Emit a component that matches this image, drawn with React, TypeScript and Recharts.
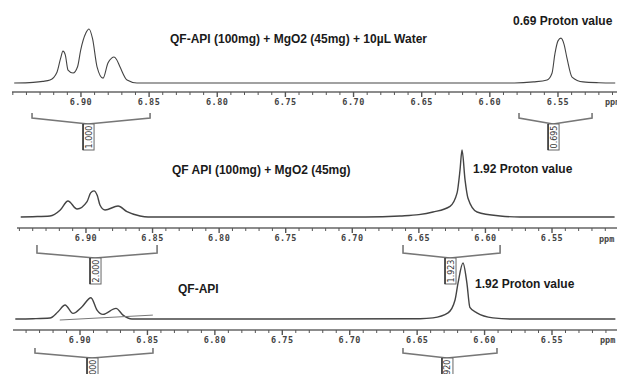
import React from 'react'
import { LineChart, Line, XAxis, YAxis, ReferenceDot } from 'recharts'

// chemical shift ticks (ppm)
const MAJOR_TICKS = [6.9, 6.85, 6.8, 6.75, 6.7, 6.65, 6.6, 6.55]
const ALL_TICKS = [
  6.95, 6.94, 6.93, 6.92, 6.91, 6.9, 6.89, 6.88, 6.87, 6.86, 6.85, 6.84, 6.83, 6.82, 6.81,
  6.8, 6.79, 6.78, 6.77, 6.76, 6.75, 6.74, 6.73, 6.72, 6.71, 6.7, 6.69, 6.68, 6.67, 6.66,
  6.65, 6.64, 6.63, 6.62, 6.61, 6.6, 6.59, 6.58, 6.57, 6.56, 6.55, 6.54, 6.53, 6.52, 6.51,
]

// QF-API + MgO2 + 10uL water
const topPpm = [
  6.949, 6.935, 6.928, 6.9227, 6.9176, 6.915, 6.9132, 6.9115, 6.9095, 6.9058, 6.9025, 6.9002,
  6.8965, 6.8941, 6.8915, 6.8882, 6.8838, 6.8802, 6.8775, 6.8758, 6.874, 6.8714, 6.8662, 6.8589,
  6.8, 6.65, 6.582, 6.568, 6.558, 6.5544, 6.5522, 6.55, 6.5478, 6.5456, 6.5434, 6.5397, 6.5316,
  6.52, 6.508,
]
const topInt = [
  0, 1.2, 3, 5.5, 20, 45, 59, 52, 24, 18.5, 30, 61, 92, 100, 82, 30, 9, 37, 46, 48, 44, 30, 5.5, 0,
  0, 0, 0, 2, 5.5, 18, 55, 78, 83, 72, 46, 11, 2, 0.5, 0,
]

// QF-API + MgO2
const midPpm = [
  6.949, 6.94, 6.927, 6.9195, 6.9135, 6.9067, 6.8992, 6.8965, 6.894, 6.8915, 6.8895, 6.8857,
  6.8759, 6.8692, 6.8594, 6.8534, 6.75, 6.69, 6.6641, 6.65, 6.6394, 6.6266, 6.6213, 6.6191,
  6.6176, 6.6153, 6.6131, 6.6063, 6.589, 6.574, 6.503,
]
const midInt = [
  0, 0.5, 1.5, 10, 24, 12, 23, 36, 39, 32, 18, 10.5, 16.4, 8, 1.5, 0, 0, 0, 1.5, 3.5, 7.5, 16, 36,
  70, 100, 55, 28, 7.5, 1.5, 0, 0,
]

// QF-API
const botPpm = [
  6.948, 6.935, 6.9223, 6.9163, 6.9111, 6.9052, 6.8985, 6.8919, 6.8874, 6.883, 6.8733, 6.8681,
  6.8615, 6.75, 6.6479, 6.6383, 6.6271, 6.6219, 6.6197, 6.616, 6.6131, 6.6109, 6.6057, 6.5938,
  6.58, 6.503,
]
const botInt = [
  0, 0.5, 1.8, 13, 25, 10, 22, 38, 16, 8.3, 19, 7, 0, 0, 0.5, 2, 11, 34, 64, 100, 64, 21, 11, 2, 0,
  0,
]
const botIntegralPpm = [6.915, 6.846]
const botIntegralInt = [-1.8, 7]

// integration ranges: start, end, label position, value
const topRangeStart = [6.9359, 6.5786]
const topRangeEnd = [6.8493, 6.525]
const topRangeMid = [6.8948, 6.5536]
const topRangeVal = ['1.000', '0.695']

const midRangeStart = [6.9368, 6.6619]
const midRangeEnd = [6.8466, 6.589]
const midRangeMid = [6.8932, 6.6266]
const midRangeVal = ['2.000', '1.923']

const botRangeStart = [6.9334, 6.6605]
const botRangeEnd = [6.8459, 6.5908]
const botRangeMid = [6.8911, 6.6279]
const botRangeVal = ['2.000', '1.920']

const W = 617
const zip = (xs: number[], ys: number[]) => xs.map((p, i) => ({ ppm: p, v: ys[i] }))

const AxisTick = (props: any) => {
  const { x, y, payload } = props
  const val = payload.value
  const major = MAJOR_TICKS.some((m) => Math.abs(m - val) < 1e-6)
  return (
    <g>
      <line x1={x} x2={x} y1={y} y2={y + (major ? 5 : 3)} stroke="#555" strokeWidth={major ? 1.4 : 1} />
      {major && (
        <text
          x={x}
          y={y + 13}
          textAnchor="middle"
          fontSize={8.5}
          fontWeight={700}
          fill="#444"
          fontFamily="DejaVu Sans Mono"
          letterSpacing={0.5}
        >
          {val.toFixed(2)}
        </text>
      )}
    </g>
  )
}

const IntegralTag = ({ cx, cy, text }: any) => (
  <g>
    <rect x={cx - 5} y={cy} width={11} height={26} fill="#fff" stroke="#666" strokeWidth={1} />
    <line x1={cx - 5} x2={cx - 5} y1={cy} y2={cy + 26} stroke="#333" strokeWidth={1.5} />
    <text
      transform={`translate(${cx + 3.5},${cy + 13}) rotate(-90)`}
      textAnchor="middle"
      fontSize={8}
      fontFamily="DejaVu Sans"
      fill="#333"
    >
      {text}
    </text>
  </g>
)

function Spectrum({ top, height, left, xDomain, yDomain, data, width, extra }: any) {
  const ticks = ALL_TICKS.filter((t) => t >= xDomain[0] && t <= xDomain[1])
  return (
    <div style={{ position: 'absolute', left: 0, top }}>
      <LineChart width={W} height={height} margin={{ top: 0, right: 0, bottom: 0, left }}>
        <XAxis
          type="number"
          dataKey="ppm"
          domain={xDomain}
          allowDataOverflow
          reversed
          ticks={ticks}
          interval={0}
          height={18}
          tickSize={0}
          tickMargin={0}
          tickLine={false}
          tick={<AxisTick />}
          axisLine={{ stroke: '#666', strokeWidth: 1.6 }}
        />
        <YAxis hide type="number" domain={yDomain} allowDataOverflow />
        <Line
          data={data}
          dataKey="v"
          type="monotone"
          stroke="#444"
          strokeWidth={width}
          dot={false}
          isAnimationActive={false}
        />
        {extra && (
          <Line
            data={extra}
            dataKey="v"
            type="linear"
            stroke="#777"
            strokeWidth={1}
            dot={false}
            isAnimationActive={false}
          />
        )}
      </LineChart>
    </div>
  )
}

function Brackets({ top, height, left, xDomain, starts, ends, mids, vals, lo, hi, apex }: any) {
  return (
    <div style={{ position: 'absolute', left: 0, top }}>
      <LineChart width={W} height={height} margin={{ top: 0, right: 0, bottom: 0, left }}>
        <XAxis hide type="number" dataKey="ppm" domain={xDomain} allowDataOverflow reversed />
        <YAxis hide type="number" domain={[0, height]} reversed allowDataOverflow />
        {starts.map((s: number, i: number) => (
          <Line
            key={i}
            data={[
              { ppm: s, v: lo },
              { ppm: s, v: hi },
              { ppm: mids[i], v: apex },
              { ppm: ends[i], v: hi },
              { ppm: ends[i], v: lo },
            ]}
            dataKey="v"
            type="linear"
            stroke="#777"
            strokeWidth={1.6}
            dot={false}
            isAnimationActive={false}
          />
        ))}
        {mids.map((m: number, i: number) => (
          <ReferenceDot
            key={'t' + i}
            x={m}
            y={apex}
            r={0}
            ifOverflow="visible"
            shape={(p: any) => <IntegralTag cx={p.cx} cy={p.cy} text={vals[i]} />}
          />
        ))}
      </LineChart>
    </div>
  )
}

const Title = ({ x, cy, children }: any) => (
  <div
    style={{
      position: 'absolute',
      left: x,
      top: cy - 7,
      lineHeight: '14px',
      fontSize: 12,
      fontWeight: 700,
      color: '#1a1a1a',
      whiteSpace: 'nowrap',
      fontFamily: '"Liberation Sans", Arial, sans-serif',
    }}
  >
    {children}
  </div>
)

const PpmLabel = ({ x, cy }: any) => (
  <div
    style={{
      position: 'absolute',
      left: x,
      top: cy - 6,
      lineHeight: '12px',
      fontSize: 8.5,
      fontWeight: 700,
      color: '#444',
      fontFamily: '"DejaVu Sans Mono", monospace',
    }}
  >
    ppm
  </div>
)

export default function App() {
  const topDomain = [6.5067, 6.9506]
  const midDomain = [6.5012, 6.9518]
  const botDomain = [6.5018, 6.9497]
  return (
    <div
      style={{
        position: 'absolute',
        left: 0,
        top: 0,
        width: W,
        height: 374,
        overflow: 'hidden',
        background: '#fff',
      }}
    >
      <Spectrum top={0} height={110} left={12} xDomain={topDomain} yDomain={[-16.7, 153.7]} data={zip(topPpm, topInt)} width={1.1} />
      <Brackets
        top={108}
        height={46}
        left={12}
        xDomain={topDomain}
        starts={topRangeStart}
        ends={topRangeEnd}
        mids={topRangeMid}
        vals={topRangeVal}
        lo={5}
        hi={10}
        apex={16}
      />
      <Spectrum top={130} height={116} left={17} xDomain={midDomain} yDomain={[-16.4, 129.9]} data={zip(midPpm, midInt)} width={1.4} />
      <Brackets
        top={240}
        height={46}
        left={17}
        xDomain={midDomain}
        starts={midRangeStart}
        ends={midRangeEnd}
        mids={midRangeMid}
        vals={midRangeVal}
        lo={5}
        hi={13}
        apex={18}
      />
      <Spectrum
        top={250}
        height={98}
        left={13}
        xDomain={botDomain}
        yDomain={[-19.6, 123.2]}
        data={zip(botPpm, botInt)}
        width={1.4}
        extra={zip(botIntegralPpm, botIntegralInt)}
      />
      <Brackets
        top={343}
        height={46}
        left={13}
        xDomain={botDomain}
        starts={botRangeStart}
        ends={botRangeEnd}
        mids={botRangeMid}
        vals={botRangeVal}
        lo={5}
        hi={10}
        apex={15}
      />

      <Title x={170} cy={39}>QF-API (100mg) + MgO2 (45mg) + 10µL Water</Title>
      <Title x={513} cy={21}>0.69 Proton value</Title>
      <Title x={172} cy={170}>QF API (100mg) + MgO2 (45mg)</Title>
      <Title x={473} cy={169}>1.92 Proton value</Title>
      <Title x={178} cy={289}>QF-API</Title>
      <Title x={475} cy={284}>1.92 Proton value</Title>

      <PpmLabel x={605} cy={102} />
      <PpmLabel x={599} cy={239} />
      <PpmLabel x={600} cy={340} />
    </div>
  )
}
